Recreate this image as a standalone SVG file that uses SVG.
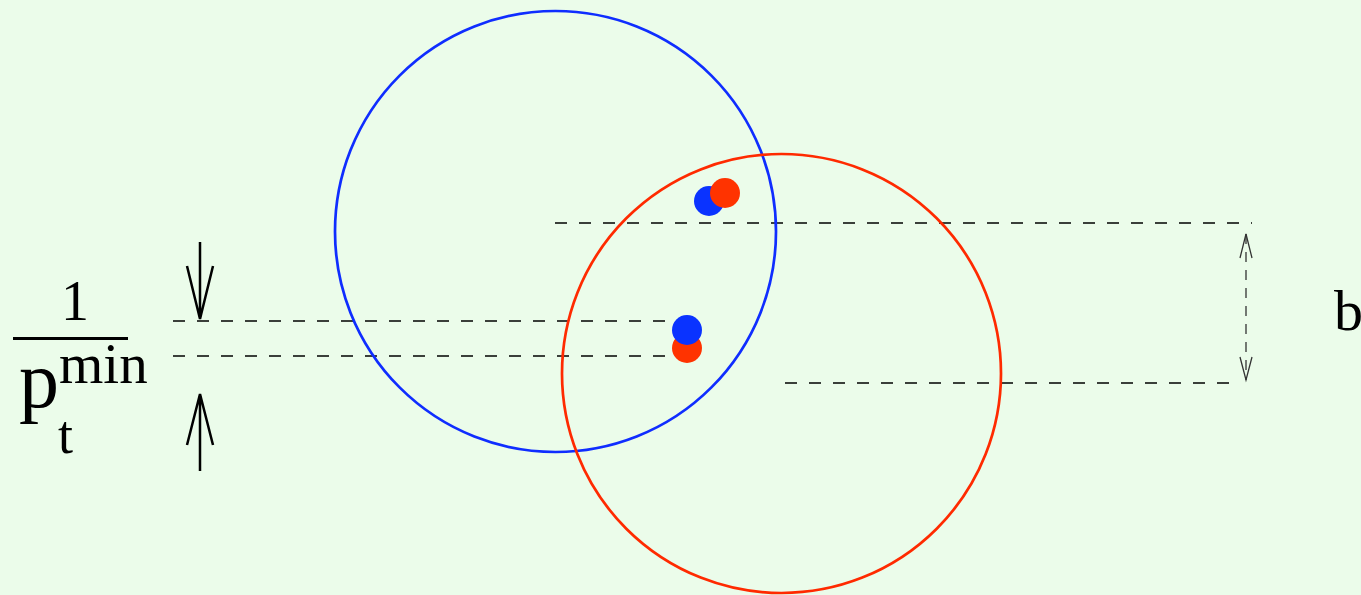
<svg xmlns="http://www.w3.org/2000/svg" width="1361" height="595" viewBox="0 0 1361 595">
<style>
.circ{fill:none;stroke-width:2.7}
.dash{stroke:#000;stroke-width:1.3;stroke-dasharray:12 12;fill:none}
.arr{stroke:#000;stroke-width:2.5;fill:none}
.arr2{stroke:#333;stroke-width:1.3;fill:none}
.t{font-family:"Liberation Serif",serif;fill:#000}
</style>
<rect width="1361" height="595" fill="#ebfcea"/>
<g id="connectors">
<line class="dash" x1="555" y1="223" x2="1252" y2="223"/>
<line class="dash" x1="785" y1="383" x2="1240" y2="383"/>
<line class="dash" x1="173" y1="321" x2="683" y2="321"/>
<line class="dash" x1="173" y1="356" x2="683" y2="356"/>
<path class="arr" d="M200 242V319M187 266L200 319L213 266"/>
<path class="arr" d="M200 471V394M187 445L200 394L213 445"/>
<line class="arr2" x1="1246" y1="234" x2="1246" y2="380" stroke-dasharray="10 8"/>
<path class="arr2" d="M1240 258L1246 234L1252 258M1240 357L1246 380L1252 357"/>
</g>
<g id="blue-circle"><circle class="circ" cx="555.5" cy="231.5" r="220.5" stroke="#0f2dff"/></g>
<g id="red-circle"><circle class="circ" cx="781.5" cy="373.5" r="219.5" stroke="#ff2a00"/></g>
<g id="dots-top">
<circle cx="709" cy="201" r="15" fill="#0a33ff"/>
<circle cx="725" cy="193" r="15" fill="#ff3300"/>
</g>
<g id="dots-bottom">
<circle cx="687" cy="348" r="15" fill="#ff3300"/>
<circle cx="687" cy="330" r="15" fill="#0a33ff"/>
</g>
<g id="label-left">
<text class="t" x="61" y="320" font-size="56">1</text>
<rect x="13" y="337" width="115" height="3" fill="#000"/>
<text class="t" x="19" y="407" font-size="80">p</text>
<text class="t" x="59" y="383" font-size="57">min</text>
<text class="t" x="58" y="453" font-size="54">t</text>
</g>
<g id="label-b"><text class="t" x="1334" y="330" font-size="58">b</text></g>
</svg>
